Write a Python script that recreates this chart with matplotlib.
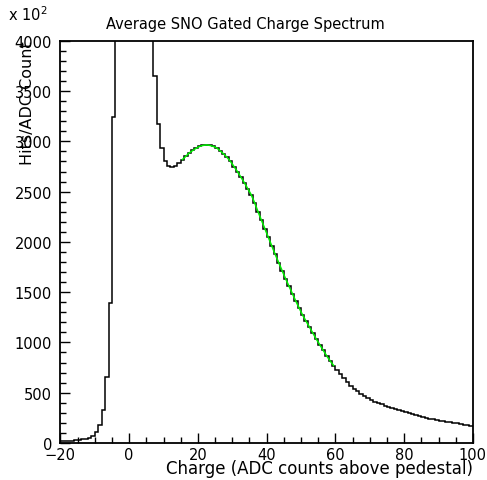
import numpy as np
import matplotlib
matplotlib.use('Agg')
import matplotlib.pyplot as plt
from matplotlib.ticker import MultipleLocator

# Datos: contenido por bin (1 cuenta ADC por bin, de -20 a 100), en unidades de 10^2
bordes = np.arange(-20, 101, 1)
cola_izq = [16, 18, 21, 24, 27, 31, 35, 40, 47, 70, 106, 176, 328, 654, 1393, 3244]       # -20 .. -5
pedestal = [6000, 15000, 25000, 30000, 28000, 22000, 15000, 9000, 6000, 4800, 4200]      # -4 .. 6 (fuera de escala)
bajada = [3650, 3174, 2932, 2809, 2755, 2743, 2759, 2786]                                # 7 .. 14
pico = [2819, 2852, 2885, 2910, 2932, 2950, 2960, 2965, 2960, 2950, 2935,
        2905, 2875, 2840, 2800, 2750, 2700, 2645, 2590, 2530, 2470]                      # 15 .. 35
caida = [2390, 2300, 2215, 2130, 2045, 1960, 1875, 1795, 1715, 1635, 1560, 1485,
         1410, 1340, 1270, 1210, 1150, 1090, 1030, 975, 920, 865, 815, 770, 730]          # 36 .. 60
cola_der = [688, 645, 605, 570, 538, 512, 488, 469, 449, 430, 411, 397, 383, 369, 355,
            345, 335, 325, 315, 305, 295, 285, 275, 265, 256, 249, 242, 235, 228, 222,
            217, 211, 206, 200, 195, 189, 183, 177, 171]                                  # 61 .. 99
cuentas = np.array(cola_izq + pedestal + bajada + pico + caida + cola_der, dtype=float)

# Ajuste (verde) sobre el rango 15..60
ajuste_ini, ajuste_fin = 15, 60

fig = plt.figure(figsize=(4.87, 4.81), dpi=100)
ax = fig.add_axes([0.124, 0.077, 0.847, 0.836])

ax.stairs(cuentas, bordes, color='black', linewidth=1.1, baseline=None)
centros = bordes[:-1] + 0.5
sel = (centros >= ajuste_ini) & (centros <= ajuste_fin)
ax.plot(centros[sel], cuentas[sel], color='#00ee00', linewidth=1.1)

ax.set_xlim(-20, 100)
ax.set_ylim(0, 4000)
ax.xaxis.set_major_locator(MultipleLocator(20))
ax.xaxis.set_minor_locator(MultipleLocator(5))
ax.yaxis.set_major_locator(MultipleLocator(500))
ax.yaxis.set_minor_locator(MultipleLocator(100))
ax.tick_params(which='major', direction='in', length=7, width=1, labelsize=10.5,
               top=False, right=False)
ax.tick_params(which='minor', direction='in', length=4, width=1, top=False, right=False)
ax.tick_params(axis='x', pad=3)
ax.tick_params(axis='y', pad=6)
for s in ax.spines.values():
    s.set_linewidth(1.3)

# Titulo centrado en la figura
fig.text(0.503, 0.95, 'Average SNO Gated Charge Spectrum', fontsize=10.5,
         ha='center', va='center')
ax.set_xlabel('Charge (ADC counts above pedestal)', fontsize=12, loc='right', labelpad=-2)
fig.text(0.057, 0.785, 'Hits/ADC Count', rotation=90, fontsize=11.5,
         ha='center', va='center')
fig.text(0.016, 0.97, r'x 10$^{2}$', fontsize=10.5, ha='left', va='center')

plt.savefig('out.png', dpi=100)
